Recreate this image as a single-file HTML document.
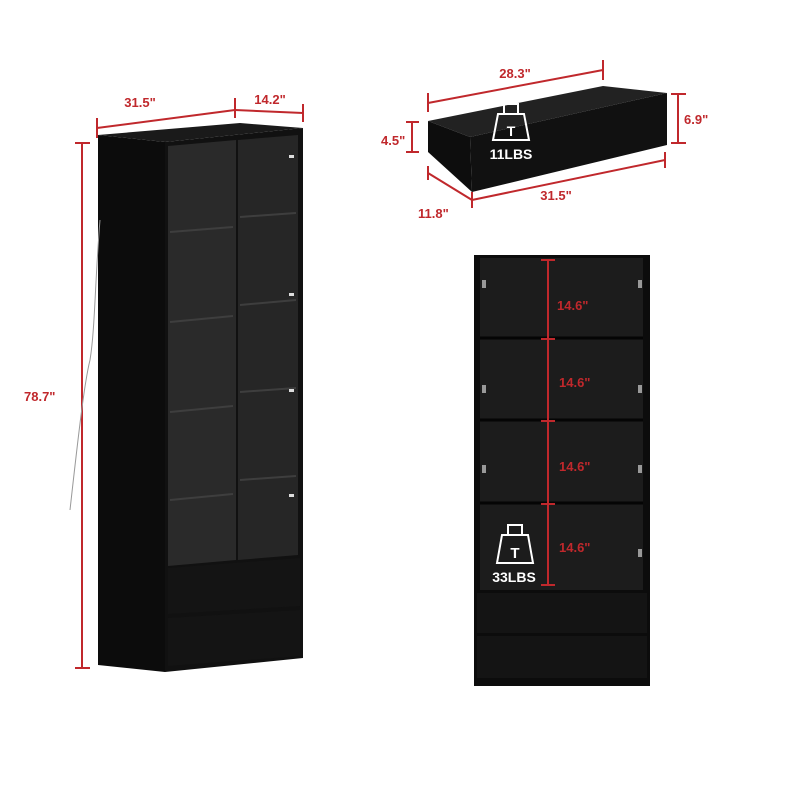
<!DOCTYPE html>
<html><head><style>body{margin:0;background:#fff}svg{display:block}text{font-family:"Liberation Sans",sans-serif;font-weight:bold}</style></head>
<body>
<svg width="800" height="800" viewBox="0 0 800 800" xmlns="http://www.w3.org/2000/svg">
<g stroke="#c0282c" stroke-width="2" fill="none">
<line x1="97" y1="128" x2="235" y2="110"/><line x1="235" y1="110" x2="303" y2="113"/>
<line x1="97" y1="118" x2="97" y2="138"/><line x1="235" y1="98" x2="235" y2="118"/><line x1="303" y1="104" x2="303" y2="122"/>
<line x1="82" y1="143" x2="82" y2="668"/><line x1="75" y1="143" x2="90" y2="143"/><line x1="75" y1="668" x2="90" y2="668"/>
<line x1="428" y1="103" x2="603" y2="70"/><line x1="428" y1="93" x2="428" y2="112"/><line x1="603" y1="60" x2="603" y2="80"/>
<line x1="412" y1="122" x2="412" y2="152"/><line x1="406" y1="122" x2="419" y2="122"/><line x1="406" y1="152" x2="419" y2="152"/>
<line x1="678" y1="94" x2="678" y2="143"/><line x1="671" y1="94" x2="686" y2="94"/><line x1="671" y1="143" x2="686" y2="143"/>
<line x1="428" y1="173" x2="472" y2="200"/><line x1="472" y1="200" x2="665" y2="160"/>
<line x1="428" y1="166" x2="428" y2="180"/><line x1="472" y1="192" x2="472" y2="208"/><line x1="665" y1="152" x2="665" y2="168"/>
</g>
<g fill="#c0282c" font-size="13">
<text x="140" y="107" text-anchor="middle">31.5"</text>
<text x="270" y="104" text-anchor="middle">14.2"</text>
<text x="24" y="401">78.7"</text>
<text x="515" y="78" text-anchor="middle">28.3"</text>
<text x="381" y="145">4.5"</text>
<text x="684" y="124">6.9"</text>
<text x="556" y="200" text-anchor="middle">31.5"</text>
<text x="418" y="218">11.8"</text>
</g>
<polygon points="98,135 165,142 165,672 98,665" fill="#0c0c0c"/>
<polygon points="98,135 165,142 303,128 240,123" fill="#1a1a1a"/>
<polygon points="165,142 303,128 303,658 165,672" fill="#111"/>
<polygon points="168,146 236,140 236,560 168,566" fill="#2a2a2a"/>
<polygon points="238,140 298,135 298,555 238,560" fill="#262626"/>
<g stroke="#3e3e3e" stroke-width="2">
<line x1="170" y1="232" x2="233" y2="227"/><line x1="240" y1="217" x2="296" y2="213"/>
<line x1="170" y1="322" x2="233" y2="316"/><line x1="240" y1="305" x2="296" y2="300"/>
<line x1="170" y1="412" x2="233" y2="406"/><line x1="240" y1="392" x2="296" y2="388"/>
<line x1="170" y1="500" x2="233" y2="494"/><line x1="240" y1="480" x2="296" y2="476"/>
</g>
<polygon points="168,568 300,558 300,606 168,614" fill="#141414"/>
<polygon points="168,618 300,610 300,656 168,666" fill="#141414"/>
<path d="M100,220 C95,280 95,330 90,360 C85,380 80,420 70,510" stroke="#999" fill="none"/>
<rect x="289" y="155" width="5" height="3" fill="#ddd"/><rect x="289" y="293" width="5" height="3" fill="#ddd"/><rect x="289" y="389" width="5" height="3" fill="#ddd"/><rect x="289" y="494" width="5" height="3" fill="#ddd"/>
<polygon points="428,121 603,86 667,93 470,137" fill="#222"/>
<polygon points="428,121 470,137 472,192 428,152" fill="#0d0d0d"/>
<polygon points="470,137 667,93 667,145 472,192" fill="#111"/>
<g fill="none" stroke="#fff" stroke-width="2"><rect x="504" y="104" width="14" height="10"/><path d="M498,114 H524 L529,140 H493 Z"/></g>
<text x="511" y="136" fill="#fff" font-size="14" text-anchor="middle">T</text>
<text x="511" y="159" fill="#fff" font-size="14" text-anchor="middle" font-weight="normal">11LBS</text>
<rect x="474" y="255" width="176" height="431" fill="#0c0c0c"/>
<rect x="480" y="258" width="163" height="332" fill="#1c1c1c"/>
<g stroke="#050505" stroke-width="3"><line x1="480" y1="338" x2="643" y2="338"/><line x1="480" y1="420" x2="643" y2="420"/><line x1="480" y1="503" x2="643" y2="503"/></g>
<rect x="477" y="593" width="170" height="40" fill="#141414"/><rect x="477" y="636" width="170" height="42" fill="#141414"/>
<g stroke="#c0282c" stroke-width="2"><line x1="548" y1="260" x2="548" y2="585"/>
<line x1="541" y1="260" x2="555" y2="260"/><line x1="541" y1="339" x2="555" y2="339"/><line x1="541" y1="421" x2="555" y2="421"/><line x1="541" y1="504" x2="555" y2="504"/><line x1="541" y1="585" x2="555" y2="585"/></g>
<g fill="#c0282c" font-size="13"><text x="557" y="310">14.6"</text><text x="559" y="387">14.6"</text><text x="559" y="471">14.6"</text><text x="559" y="552">14.6"</text></g>
<g fill="#999"><rect x="482" y="280" width="4" height="8"/><rect x="482" y="385" width="4" height="8"/><rect x="482" y="465" width="4" height="8"/><rect x="638" y="280" width="4" height="8"/><rect x="638" y="385" width="4" height="8"/><rect x="638" y="465" width="4" height="8"/><rect x="638" y="549" width="4" height="8"/></g>
<g fill="none" stroke="#fff" stroke-width="2"><rect x="508" y="525" width="14" height="10"/><path d="M502,535 H528 L533,563 H497 Z"/></g>
<text x="515" y="558" fill="#fff" font-size="15" text-anchor="middle">T</text>
<text x="514" y="582" fill="#fff" font-size="14" text-anchor="middle" font-weight="normal">33LBS</text>
</svg>
</body></html>
